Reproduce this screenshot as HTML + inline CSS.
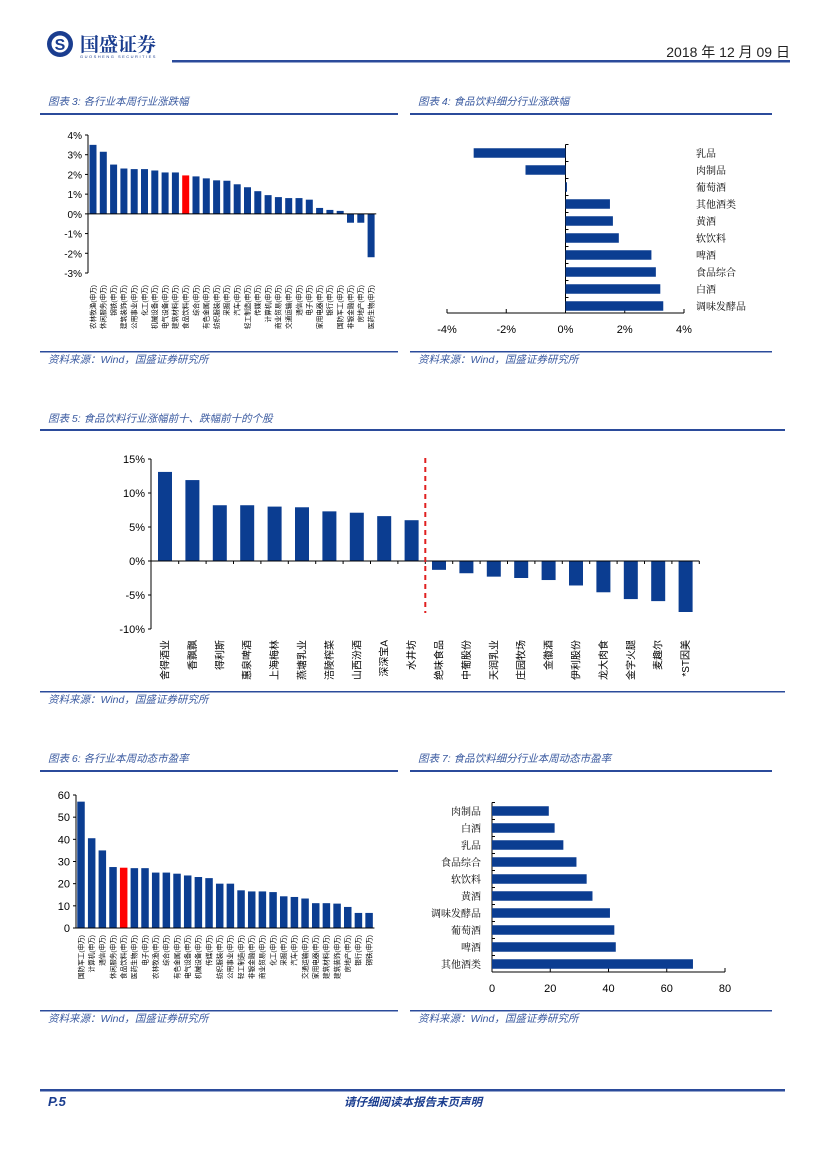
<!DOCTYPE html>
<html><head><meta charset="utf-8">
<style>
html,body{margin:0;padding:0;background:#fff;}
body{width:827px;height:1169px;position:relative;overflow:hidden;font-family:"Liberation Sans","Noto Sans CJK SC",sans-serif;}
svg{position:absolute;left:0;top:0;}
</style></head>
<body>
<svg id="page" width="827" height="1169" viewBox="0 0 827 1169">
  <g>
    <circle cx="60" cy="44" r="13" fill="#1a3d8f"/>
    <circle cx="60" cy="44" r="8.5" fill="#fff"/>
    <text x="60" y="50" font-size="16" font-weight="bold" fill="#1a3d8f" text-anchor="middle" font-family="Liberation Sans,sans-serif">S</text>
    <text x="80" y="51" font-size="19" font-weight="bold" fill="#1a3d8f" font-family="Noto Serif CJK SC,serif">国盛证券</text>
    <text x="80" y="58" font-size="4" fill="#1a3d8f" letter-spacing="1.5">GUOSHENG SECURITIES</text>
  </g>
  <text x="790" y="57" font-size="14" fill="#222" text-anchor="end" font-family="Liberation Sans,Noto Sans CJK SC,sans-serif">2018 年 12 月 09 日</text>
  <rect x="172" y="60" width="618" height="2.5" fill="#2b4b9b"/>

  <g font-family="Liberation Sans,Noto Sans CJK SC,sans-serif" font-style="italic" font-size="10.5" fill="#3a5aa0">
    <text x="48" y="105">图表 3:  各行业本周行业涨跌幅</text>
    <text x="418" y="105">图表 4:  食品饮料细分行业涨跌幅</text>
    <text x="48" y="422">图表 5:  食品饮料行业涨幅前十、跌幅前十的个股</text>
    <text x="48" y="762">图表 6:  各行业本周动态市盈率</text>
    <text x="418" y="762">图表 7:  食品饮料细分行业本周动态市盈率</text>
    <text x="48" y="363">资料来源：Wind，国盛证券研究所</text>
    <text x="418" y="363">资料来源：Wind，国盛证券研究所</text>
    <text x="48" y="703">资料来源：Wind，国盛证券研究所</text>
    <text x="48" y="1022">资料来源：Wind，国盛证券研究所</text>
    <text x="418" y="1022">资料来源：Wind，国盛证券研究所</text>
  </g>
  <g fill="#2b4b9b">
    <rect x="40" y="113" width="358" height="2"/>
    <rect x="410" y="113" width="362" height="2"/>
    <rect x="40" y="351" width="358" height="1.5"/>
    <rect x="410" y="351" width="362" height="1.5"/>
    <rect x="40" y="429" width="745" height="2"/>
    <rect x="40" y="691" width="745" height="1.5"/>
    <rect x="40" y="770" width="358" height="2"/>
    <rect x="410" y="770" width="362" height="2"/>
    <rect x="40" y="1010" width="358" height="1.5"/>
    <rect x="410" y="1010" width="362" height="1.5"/>
    <rect x="40" y="1089" width="745" height="2.5"/>
  </g>
  <text x="48" y="1106" font-size="13" font-weight="bold" font-style="italic" fill="#1a3d8f">P.5</text>
  <text x="413" y="1106" font-size="11.5" font-weight="bold" font-style="italic" fill="#1a3d8f" text-anchor="middle" font-family="Liberation Sans,Noto Sans CJK SC,sans-serif">请仔细阅读本报告末页声明</text>

  <g id="c3"></g>
  <g id="c4"></g>
  <g id="c5"></g>
  <g id="c6"></g>
  <g id="c7"></g>
</svg>
<script>
const c3Categories = ["农林牧渔","休闲服务","钢铁","建筑装饰","公用事业","化工","机械设备","电气设备","建筑材料","食品饮料","综合","有色金属","纺织服装","采掘","汽车","轻工制造","传媒","计算机","商业贸易","交通运输","通信","电子","家用电器","银行","国防军工","非银金融","房地产","医药生物"];
const c3Values = [3.5,3.15,2.5,2.3,2.27,2.27,2.2,2.1,2.1,1.95,1.9,1.8,1.7,1.68,1.5,1.35,1.15,0.95,0.85,0.8,0.8,0.72,0.3,0.2,0.15,-0.45,-0.45,-2.2];
const c3Ticks = [4,3,2,1,0,-1,-2,-3];

const c4Categories = ["乳品","肉制品","葡萄酒","其他酒类","黄酒","软饮料","啤酒","食品综合","白酒","调味发酵品"];
const c4Values = [-3.1,-1.35,0.05,1.5,1.6,1.8,2.9,3.05,3.2,3.3];
const c4Ticks = [-4,-2,0,2,4];

const c5Categories = ["舍得酒业","香飘飘","得利斯","惠泉啤酒","上海梅林","燕塘乳业","涪陵榨菜","山西汾酒","深深宝A","水井坊","绝味食品","中葡股份","天润乳业","庄园牧场","金徽酒","伊利股份","龙大肉食","金字火腿","麦趣尔","*ST因美"];
const c5Values = [13.1,11.9,8.2,8.2,8.0,7.9,7.3,7.1,6.6,6.0,-1.3,-1.8,-2.3,-2.5,-2.8,-3.6,-4.6,-5.6,-5.9,-7.5];
const c5Ticks = [15,10,5,0,-5,-10];

const c6Categories = ["国防军工","计算机","通信","休闲服务","食品饮料","医药生物","电子","农林牧渔","综合","有色金属","电气设备","机械设备","传媒","纺织服装","公用事业","轻工制造","非银金融","商业贸易","化工","采掘","汽车","交通运输","家用电器","建筑材料","建筑装饰","房地产","银行","钢铁"];
const c6Values = [57,40.5,35,27.5,27.2,27,27,25,25,24.5,23.7,23,22.5,20,20,17,16.5,16.5,16.2,14.3,14,13.3,11.2,11.2,11,9.5,6.8,6.8];
const c6Ticks = [60,50,40,30,20,10,0];

const c7Categories = ["肉制品","白酒","乳品","食品综合","软饮料","黄酒","调味发酵品","葡萄酒","啤酒","其他酒类"];
const c7Values = [19.5,21.5,24.5,29,32.5,34.5,40.5,42,42.5,69];
const c7Ticks = [0,20,40,60,80];

const NS = "http://www.w3.org/2000/svg";
const BLUE = "#0b3d91", RED = "#ff0000";
function mk(parent, tag, attrs, txt) {
  const e = document.createElementNS(NS, tag);
  for (const k in attrs) e.setAttribute(k, attrs[k]);
  if (txt !== undefined) e.textContent = txt;
  parent.appendChild(e);
  return e;
}
function lin(d0, d1, r0, r1) { return v => r0 + (v - d0) * (r1 - r0) / (d1 - d0); }

// Vertical bar chart helper
function vbars(g, cats, vals, ticks, o) {
  const y = lin(o.dmin, o.dmax, o.ybot, o.ytop);
  const x = i => o.x0 + i * o.step;
  const axis = mk(g, "line", {x1:o.ax, y1:y(o.dmax), x2:o.ax, y2:y(o.dmin), stroke:"#000", "stroke-width":1});
  
  
  ticks.forEach(t => {
    mk(g, "line", {x1:o.ax-3, y1:y(t), x2:o.ax, y2:y(t), stroke:"#000", "stroke-width":1});
    const tl = mk(g, "text", {x:o.ax-6, y:y(t)+4, "font-size":o.tfs, "text-anchor":"end", fill:"#000"}, t + o.suf);
    
    
  });
  cats.forEach((c, i) => {
    const v = vals[i];
    const top = Math.min(y(v), y(0)), h = Math.abs(y(v) - y(0));
    const b = mk(g, "rect", {x:x(i)-o.bw/2, y:top, width:o.bw, height:Math.max(h,0.5), fill:(o.red===i?RED:BLUE)});
    
    
    const lx = x(i) + o.lfs*0.35, ly = o.ltop;
    const l = mk(g, "text", {x:lx, y:ly, "font-size":o.lfs, "text-anchor":"end", fill:"#000", transform:`rotate(-90 ${lx} ${ly})`}, c + (o.lsuf||""));
    
    
  });
  const zl = mk(g, "line", {x1:o.ax, y1:y(0), x2:x(cats.length-1)+o.step/2, y2:y(0), stroke:"#000", "stroke-width":1});
  
  
  if (o.zticks) cats.forEach((c,i)=>{ mk(g,"line",{x1:x(i)+o.step/2,y1:y(0),x2:x(i)+o.step/2,y2:y(0)+3,stroke:"#000"}); });
  return {x, y};
}

// Horizontal bar chart helper
function hbars(g, cats, vals, ticks, o) {
  const x = lin(o.dmin, o.dmax, o.x0, o.x1);
  const y = i => o.y0 + i * o.step;
  const xa = mk(g, "line", {x1:x(o.dmin), y1:o.ay, x2:x(o.dmax), y2:o.ay, stroke:"#000", "stroke-width":1});
  
  
  ticks.forEach(t => {
    mk(g, "line", {x1:x(t), y1:o.ay, x2:x(t), y2:o.ay-4, stroke:"#000"});
    const tl = mk(g, "text", {x:x(t), y:o.ay+20, "font-size":11, "text-anchor":"middle", fill:"#000"}, t + o.suf);
    
    
  });
  const ya = mk(g, "line", {x1:x(0), y1:y(0)-o.step/2, x2:x(0), y2:o.ay, stroke:"#000", "stroke-width":1});
  
  
  cats.forEach((c, i) => {
    mk(g, "line", {x1:x(0), y1:y(i)-o.step/2, x2:x(0)+3, y2:y(i)-o.step/2, stroke:"#000"});
    const v = vals[i];
    const l = Math.min(x(v), x(0)), w = Math.abs(x(v) - x(0));
    const b = mk(g, "rect", {x:l, y:y(i)-o.bh/2, width:Math.max(w,1), height:o.bh, fill:BLUE});
    
    
    const t = mk(g, "text", {x:o.lx, y:y(i)+4, "font-size":10, "text-anchor":o.lanchor, fill:"#000", "font-family":"Noto Serif CJK SC,serif"}, c);
    
    
  });
}

vbars(document.getElementById("c3"), c3Categories, c3Values, c3Ticks,
  {dmin:-3, dmax:4, ybot:273, ytop:135, ax:88, x0:93, step:10.3, bw:7, tfs:10, suf:"%", lfs:6.6, ltop:285, lsuf:"(申万)", red:9});
hbars(document.getElementById("c4"), c4Categories, c4Values, c4Ticks,
  {dmin:-4, dmax:4, x0:447, x1:684, y0:153, step:17, bh:9.5, ay:313, suf:"%", lx:696, lanchor:"start"});
const c5 = vbars(document.getElementById("c5"), c5Categories, c5Values, c5Ticks,
  {dmin:-10, dmax:15, ybot:629, ytop:459, ax:151, x0:165, step:27.4, bw:14, tfs:11, suf:"%", lfs:10, ltop:640, zticks:true});
const dash = mk(document.getElementById("c5"), "line", {x1:c5.x(9.5), y1:458, x2:c5.x(9.5), y2:613, stroke:"#e02020", "stroke-width":2, "stroke-dasharray":"5,4"});


vbars(document.getElementById("c6"), c6Categories, c6Values, c6Ticks,
  {dmin:0, dmax:60, ybot:928, ytop:795, ax:76, x0:81, step:10.67, bw:7.5, tfs:11, suf:"", lfs:6.6, ltop:935, lsuf:"(申万)", red:4});
hbars(document.getElementById("c7"), c7Categories, c7Values, c7Ticks,
  {dmin:0, dmax:80, x0:492, x1:725, y0:811, step:17, bh:9.5, ay:972, suf:"", lx:481, lanchor:"end"});
</script>
</body></html>
